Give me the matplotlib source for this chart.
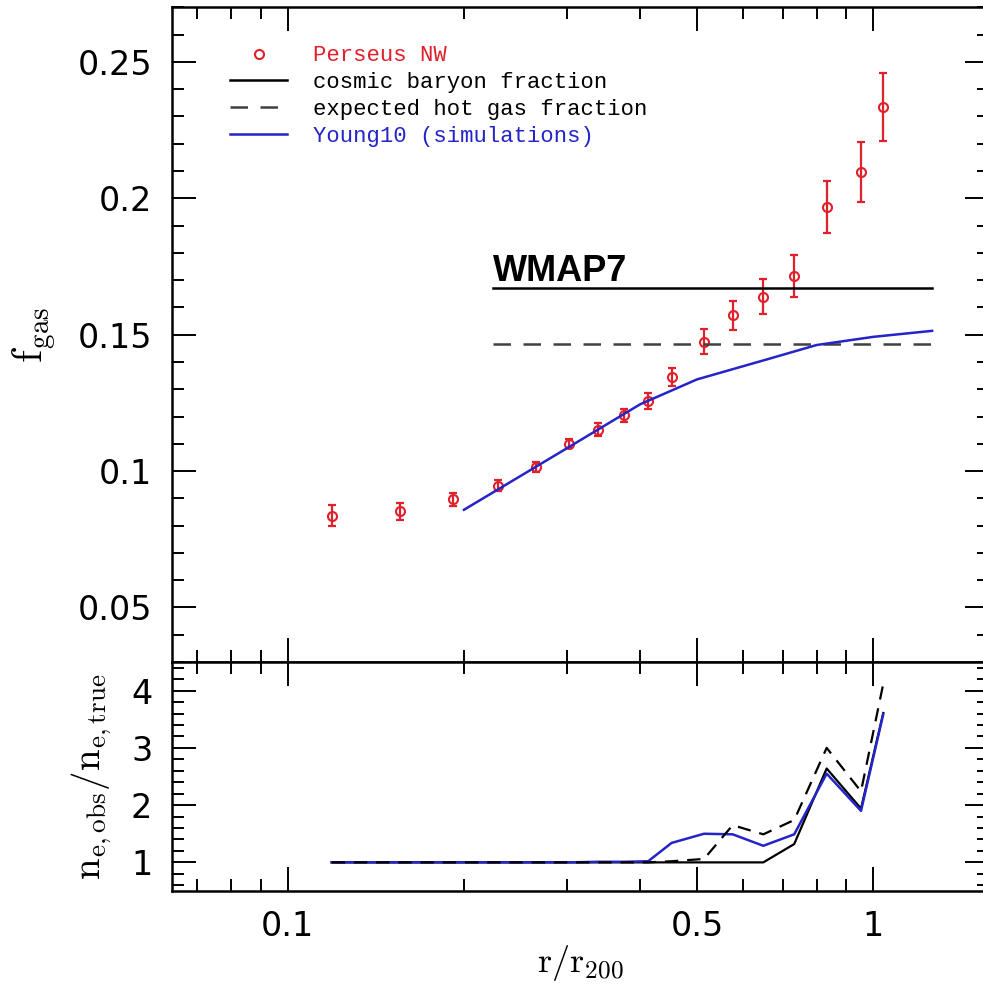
import matplotlib.pyplot as plt
import numpy as np

# Perseus NW gas fraction profile
r = [0.1189, 0.1555, 0.1918, 0.2289, 0.2655, 0.3027, 0.3391, 0.3753, 0.4127,
     0.4525, 0.5140, 0.5753, 0.6489, 0.7328, 0.8325, 0.9528, 1.040]
fgas = [0.0837, 0.0852, 0.0897, 0.0946, 0.1014, 0.1101, 0.1152, 0.1204, 0.1256,
        0.1346, 0.1474, 0.1571, 0.1639, 0.1716, 0.1967, 0.2098, 0.2335]
fgas_err = [0.0038, 0.0031, 0.0024, 0.0020, 0.0018, 0.0018, 0.0023, 0.0025, 0.0029,
            0.0033, 0.0046, 0.0053, 0.0064, 0.0077, 0.0095, 0.0110, 0.0125]

# Young10 simulations
young_r = [0.2, 0.3, 0.4, 0.5, 0.65, 0.8, 1.0, 1.26]
young_f = [0.0858, 0.1084, 0.1245, 0.1336, 0.1406, 0.1462, 0.1492, 0.1514]

# horizontal reference levels
level_r = [0.224, 1.258]
f_baryon = 0.167
f_hot = 0.1465

# clumping ratio n_e,obs / n_e,true at the data radii
ratio_solid = [1, 1, 1, 1, 1, 1, 1, 1, 1, 1, 1, 1, 1, 1.32, 2.64, 1.94, 3.61]
ratio_dashed = [1, 1, 1, 1, 1, 1, 1, 1, 1, 1.02, 1.06, 1.65, 1.49, 1.74, 3.0, 2.24, 4.12]
ratio_young = [1, 1, 1, 1, 1, 1, 1.01, 1.01, 1.02, 1.34, 1.50, 1.49, 1.29, 1.49, 2.55, 1.90, 3.59]

red = '#e0202a'
blue = '#2424c8'
grey = '#404040'

plt.rcParams['mathtext.fontset'] = 'cm'

fig = plt.figure(figsize=(9.83, 9.9), dpi=100)
ax = fig.add_axes([0.1747, 0.3313, 0.8314, 0.6613])
ax2 = fig.add_axes([0.1747, 0.1, 0.8314, 0.2313], sharex=ax)

ax.errorbar(r, fgas, yerr=fgas_err, fmt='none', ecolor=red, elinewidth=1.6,
            capsize=3.2, capthick=1.6, zorder=2)
ax.plot(r, fgas, 'o', mfc='none', mec=red, mew=1.5, ms=6.5, label='Perseus NW', zorder=3)
ax.plot(level_r, [f_baryon, f_baryon], '-', color='black', lw=1.8,
        label='cosmic baryon fraction', zorder=4)
ax.plot(level_r, [f_hot, f_hot], '--', color=grey, lw=1.8, dashes=(7, 5),
        label='expected hot gas fraction', zorder=4)
ax.plot(young_r, young_f, '-', color=blue, lw=1.8, label='Young10 (simulations)', zorder=5)
ax.text(level_r[0], 0.1697, 'WMAP7', fontsize=26, fontweight='bold',
        family='Liberation Sans', ha='left', va='baseline')

leg = ax.legend(loc='upper left', bbox_to_anchor=(0.0713, 0.942), frameon=False,
                borderpad=0, borderaxespad=0, numpoints=1, handlelength=2.57,
                handletextpad=1.15, labelspacing=0.26,
                prop={'family': 'Liberation Mono', 'size': 16})
for t, c in zip(leg.get_texts(), [red, 'black', 'black', blue]):
    t.set_color(c)

ax2.plot(r, ratio_solid, '-', color='black', lw=1.6, zorder=2)
ax2.plot(r, ratio_young, '-', color=blue, lw=1.8, zorder=3)
ax2.plot(r, ratio_dashed, '--', color='black', lw=1.6, dashes=(6, 4), zorder=4)

ax.set_xscale('log')
ax.set_xlim(0.0634, 1.576)
ax.set_ylim(0.03, 0.27)
ax2.set_ylim(0.5, 4.5)

ax.set_yticks([0.05, 0.1, 0.15, 0.2, 0.25])
ax.set_yticklabels(['0.05', '0.1', '0.15', '0.2', '0.25'])
ax.set_yticks(np.arange(0.03, 0.271, 0.01), minor=True)
ax2.set_yticks([1, 2, 3, 4])
ax2.set_yticks(np.arange(0.6, 4.5, 0.2), minor=True)
ax2.set_xticks([0.1, 0.5, 1])
ax2.set_xticklabels(['0.1', '0.5', '1'])
ax2.set_xticks([0.07, 0.08, 0.09, 0.2, 0.3, 0.4, 0.6, 0.7, 0.8, 0.9], minor=True)
ax2.xaxis.set_minor_formatter(plt.NullFormatter())

for a in (ax, ax2):
    a.tick_params(which='both', direction='in', top=True, right=True, width=1.4,
                  labelsize=24, pad=14)
    a.tick_params(which='major', length=17)
    a.tick_params(which='minor', length=8.5)
    for s in a.spines.values():
        s.set_linewidth(1.8)
ax.tick_params(axis='x', which='both', labelbottom=False)

ax.set_ylabel(r'$\mathrm{f_{gas}}$', fontsize=30, labelpad=14)
ax2.set_ylabel(r'$\mathrm{n_{e,obs}/n_{e,true}}$', fontsize=28, labelpad=12)
ax2.set_xlabel(r'$\mathrm{r/r_{200}}$', fontsize=26, labelpad=0)

fig.savefig('out.png', dpi=100)
